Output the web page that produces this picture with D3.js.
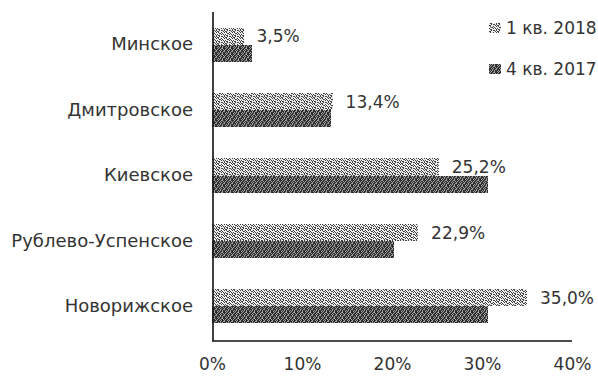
<!DOCTYPE html>
<html>
<head>
<meta charset="utf-8">
<script src="https://cdn.jsdelivr.net/npm/d3@7"></script>
<style>
  html, body { margin: 0; padding: 0; background: #fff; }
  svg text { font-family: "DejaVu Sans", Verdana, sans-serif; fill: #333; }
</style>
</head>
<body>
<svg id="chart" width="598" height="380"></svg>
<script>
// Доля предложения по направлениям
const categories = ["Минское", "Дмитровское", "Киевское", "Рублево-Успенское", "Новорижское"];
const seriesNames = ["1 кв. 2018", "4 кв. 2017"];
const q1_2018 = [3.5, 13.4, 25.2, 22.9, 35.0];
const q4_2017 = [4.4, 13.2, 30.7, 20.2, 30.7];
const xTicks = [0, 10, 20, 30, 40];

const svg = d3.select("#chart");
const plotLeft = 212, plotRight = 572, plotTop = 12, plotBottom = 340;

// Dithered fills for the two series
const patterns = [
  { id: "pLight", bg: "#ececec", ink: "#444",
    rows: ["10010110", "01100001", "10100100", "00011010", "01000101", "10110000"] },
  { id: "pDark", bg: "#a0a0a0", ink: "#2e2e2e",
    rows: ["11011001", "10110110", "01101011", "01110110", "11010101", "10101101"] }
];
const defs = svg.append("defs");
patterns.forEach(p => {
  const pat = defs.append("pattern")
    .attr("id", p.id).attr("patternUnits", "userSpaceOnUse")
    .attr("width", p.rows[0].length).attr("height", p.rows.length);
  pat.append("rect").attr("width", p.rows[0].length).attr("height", p.rows.length).attr("fill", p.bg);
  p.rows.forEach((row, r) => {
    row.split("").forEach((c, k) => {
      if (c === "1") pat.append("rect").attr("x", k).attr("y", r).attr("width", 1).attr("height", 1).attr("fill", p.ink);
    });
  });
});
const fills = ["url(#pLight)", "url(#pDark)"];

const x = d3.scaleLinear().domain([0, 40]).range([plotLeft, plotRight]);
const y = d3.scaleBand().domain(categories).range([plotTop, plotBottom - 1]).paddingInner(0.48).paddingOuter(0.24);
const ySub = d3.scaleBand().domain(seriesNames).range([0, y.bandwidth()]);

const rows = categories.map((c, i) => ({ cat: c, values: [q1_2018[i], q4_2017[i]] }));

const g = svg.append("g").attr("shape-rendering", "crispEdges");
rows.forEach(r => {
  r.values.forEach((v, si) => {
    g.append("rect")
      .attr("x", x(0))
      .attr("y", y(r.cat) + ySub(seriesNames[si]))
      .attr("width", x(v) - x(0))
      .attr("height", ySub.bandwidth())
      .attr("fill", fills[si]);
  });
});

// Value labels for the latest quarter
const fmt = v => v.toFixed(1).replace(".", ",") + "%";
rows.forEach(r => {
  svg.append("text")
    .attr("x", x(r.values[0]) + 13)
    .attr("y", y(r.cat) + ySub(seriesNames[0]) + ySub.bandwidth() / 2)
    .attr("dy", "0.36em")
    .attr("font-size", 17)
    .text(fmt(r.values[0]));
});

// Axes lines
svg.append("line").attr("x1", plotLeft + 1).attr("x2", plotLeft + 1).attr("y1", plotTop).attr("y2", plotBottom + 1)
  .attr("stroke", "#111").attr("stroke-width", 1.6);
svg.append("line").attr("x1", plotLeft).attr("x2", plotRight).attr("y1", plotBottom + 1).attr("y2", plotBottom + 1)
  .attr("stroke", "#111").attr("stroke-width", 1.6);

// Category labels
const yAxis = d3.axisLeft(y).tickSize(0).tickPadding(0);
const ya = svg.append("g").attr("transform", `translate(${193},0)`).call(yAxis);
ya.select(".domain").remove();
ya.selectAll("text").attr("font-size", 18).attr("fill", "#333")
  .style("font-family", '"DejaVu Sans", Verdana, sans-serif');

// X tick labels
const xAxis = d3.axisBottom(x).tickValues(xTicks).tickSize(0).tickPadding(0).tickFormat(d => d + "%");
const xa = svg.append("g").attr("transform", `translate(0,${358})`).call(xAxis);
xa.select(".domain").remove();
xa.selectAll("text").attr("font-size", 17).attr("fill", "#333")
  .style("font-family", '"DejaVu Sans", Verdana, sans-serif');

// Legend
seriesNames.forEach((s, i) => {
  const ly = 28 + i * 41;
  svg.append("rect").attr("x", 489).attr("y", ly - 5).attr("width", 12).attr("height", 10)
    .attr("fill", fills[i]).attr("shape-rendering", "crispEdges");
  svg.append("text").attr("x", 506).attr("y", ly).attr("dy", "0.36em")
    .attr("font-size", 17).text(s);
});
</script>
</body>
</html>
